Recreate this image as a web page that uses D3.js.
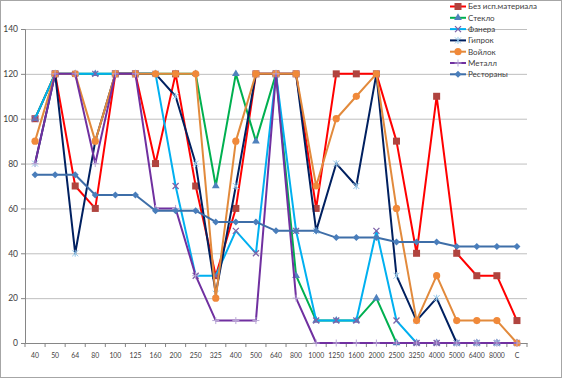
<!DOCTYPE html>
<html>
<head>
<meta charset="utf-8">
<script src="https://cdn.jsdelivr.net/npm/d3@7"></script>
<style>
  body { margin: 0; background: #fff; }
  text { font-family: Lato, "Open Sans", sans-serif; fill: #404040; }
</style>
</head>
<body>
<div id="chart"></div>
<script>
// categories (frequency bands)
var categories = ["40","50","64","80","100","125","160","200","250","325","400","500","640","800",
  "1000","1250","1600","2000","2500","3250","4000","5000","6400","8000","C"];

// series values
var bezMaterial = [100,120,70,60,120,120,80,120,70,30,60,120,120,120,60,120,120,120,90,40,110,40,30,30,10];
var steklo      = [100,120,120,120,120,120,120,120,120,70,120,90,120,30,10,10,10,20,0,0,0,0,0,0,0];
var fanera      = [100,120,120,120,120,120,120,70,30,30,50,40,120,50,10,10,10,50,10,0,0,0,0,0,0];
var giprok      = [80,120,40,90,120,120,120,110,80,22,70,120,120,120,50,80,70,120,30,10,20,0,0,0,0];
var voylok      = [90,120,120,90,120,120,120,120,120,20,90,120,120,120,70,100,110,120,60,10,30,10,10,10,0];
var metall      = [80,120,120,80,120,120,60,60,30,10,10,10,120,20,0,0,0,0,0,0,0,0,0,0,0];
var restorany   = [75,75,75,66,66,66,59,59,59,54,54,54,50,50,50,47,47,47,45,45,45,43,43,43,43];

var yTicks = [0,20,40,60,80,100,120,140];

var series = [
  {name: "Без исп.материала", values: bezMaterial, line: "#FF0000", marker: "square",   mcolor: "#B0443F"},
  {name: "Стекло",            values: steklo,      line: "#00B050", marker: "triangle", mcolor: "#4F81BD"},
  {name: "Фанера",            values: fanera,      line: "#00B0F0", marker: "x",        mcolor: "#7F62A8"},
  {name: "Гипрок",            values: giprok,      line: "#002060", marker: "star",     mcolor: "#93C6E8"},
  {name: "Войлок",            values: voylok,      line: "#E28A3C", marker: "circle",   mcolor: "#F0893A"},
  {name: "Металл",            values: metall,      line: "#7030A0", marker: "plus",     mcolor: "#B9A8D6"},
  {name: "Рестораны",         values: restorany,   line: "#3E6EA8", marker: "diamond",  mcolor: "#4A7EBB"}
];

var W = 564, H = 379;
var svg = d3.select("#chart").append("svg")
  .attr("width", W).attr("height", H);

// outer border
svg.append("rect")
  .attr("x", 0.5).attr("y", 0.5)
  .attr("width", 561).attr("height", 377)
  .attr("fill", "#fff").attr("stroke", "#A6A6A6");

var x = d3.scaleBand().domain(categories).range([25, 527]).padding(0);
var y = d3.scaleLinear().domain([0, 140]).range([343, 29]);
var cx = function(i) { return x(categories[i]) + x.bandwidth() / 2; };

// gridlines
svg.append("g")
  .attr("transform", "translate(25,0)")
  .call(d3.axisLeft(y).tickValues(yTicks).tickSize(-502).tickFormat(""))
  .call(function(g) {
    g.select(".domain").remove();
    g.selectAll("line").attr("stroke", "#BFBFBF").attr("stroke-width", 1);
  });

// y axis
svg.append("g")
  .attr("transform", "translate(25,0)")
  .call(d3.axisLeft(y).tickValues(yTicks).tickSize(4).tickPadding(3))
  .call(function(g) {
    g.select(".domain").attr("stroke", "#868686");
    g.selectAll("line").attr("stroke", "#868686");
    g.selectAll("text").style("font-size", "8.5px");
  });

// x axis, ticks sit between categories
var xAxis = svg.append("g")
  .attr("transform", "translate(0,343)")
  .call(d3.axisBottom(x).tickSize(0).tickPadding(9))
  .call(function(g) {
    g.select(".domain").attr("stroke", "#868686");
    // labels are narrow in the original, squeeze them a bit
    g.selectAll("text").style("font-size", "8px").attr("transform", "scale(0.86,1)");
  });
xAxis.selectAll(".bound")
  .data(categories.map(function(c) { return x(c); }).concat([527]))
  .enter().append("line")
  .attr("x1", function(d) { return d; }).attr("x2", function(d) { return d; })
  .attr("y1", 0).attr("y2", 4)
  .attr("stroke", "#868686");

var line = d3.line()
  .x(function(d, i) { return cx(i); })
  .y(function(d) { return y(d); });

function drawMarker(g, type, color, px, py) {
  if (type === "square") {
    g.append("rect").attr("x", px - 3.5).attr("y", py - 3.5).attr("width", 7).attr("height", 7)
      .attr("fill", color);
  } else if (type === "triangle") {
    g.append("path").attr("d", d3.symbol(d3.symbolTriangle, 26)())
      .attr("transform", "translate(" + px + "," + py + ")").attr("fill", color);
  } else if (type === "circle") {
    g.append("circle").attr("cx", px).attr("cy", py).attr("r", 3.6).attr("fill", color);
  } else if (type === "diamond") {
    g.append("path").attr("d", "M0,-3.5L3.5,0L0,3.5L-3.5,0Z")
      .attr("transform", "translate(" + px + "," + py + ")").attr("fill", color);
  } else if (type === "x") {
    g.append("path").attr("d", "M-3,-3L3,3M-3,3L3,-3")
      .attr("transform", "translate(" + px + "," + py + ")")
      .attr("stroke", color).attr("stroke-width", 1.3).attr("fill", "none");
  } else if (type === "star") {
    g.append("path").attr("d", "M-3,-3L3,3M-3,3L3,-3M0,-3.5L0,3.5")
      .attr("transform", "translate(" + px + "," + py + ")")
      .attr("stroke", color).attr("stroke-width", 1).attr("fill", "none");
  } else if (type === "plus") {
    g.append("path").attr("d", "M-3.5,0L3.5,0M0,-3.5L0,3.5")
      .attr("transform", "translate(" + px + "," + py + ")")
      .attr("stroke", color).attr("stroke-width", 1).attr("fill", "none");
  }
}

// series
series.forEach(function(s) {
  var g = svg.append("g");
  g.append("path")
    .datum(s.values)
    .attr("d", line)
    .attr("fill", "none")
    .attr("stroke", s.line)
    .attr("stroke-width", 2)
    .attr("stroke-linejoin", "round");
  s.values.forEach(function(v, i) {
    drawMarker(g, s.marker, s.mcolor, cx(i), y(v));
  });
});

// legend
var legend = svg.append("g");
series.forEach(function(s, i) {
  var ly = 6.5 + i * 11.3;
  legend.append("line")
    .attr("x1", 450).attr("x2", 466).attr("y1", ly).attr("y2", ly)
    .attr("stroke", s.line).attr("stroke-width", 2);
  drawMarker(legend, s.marker, s.mcolor, 458, ly);
  legend.append("text")
    .attr("x", 468).attr("y", ly).attr("dy", "0.35em")
    .style("font-size", "8px")
    .text(s.name);
});
</script>
</body>
</html>
